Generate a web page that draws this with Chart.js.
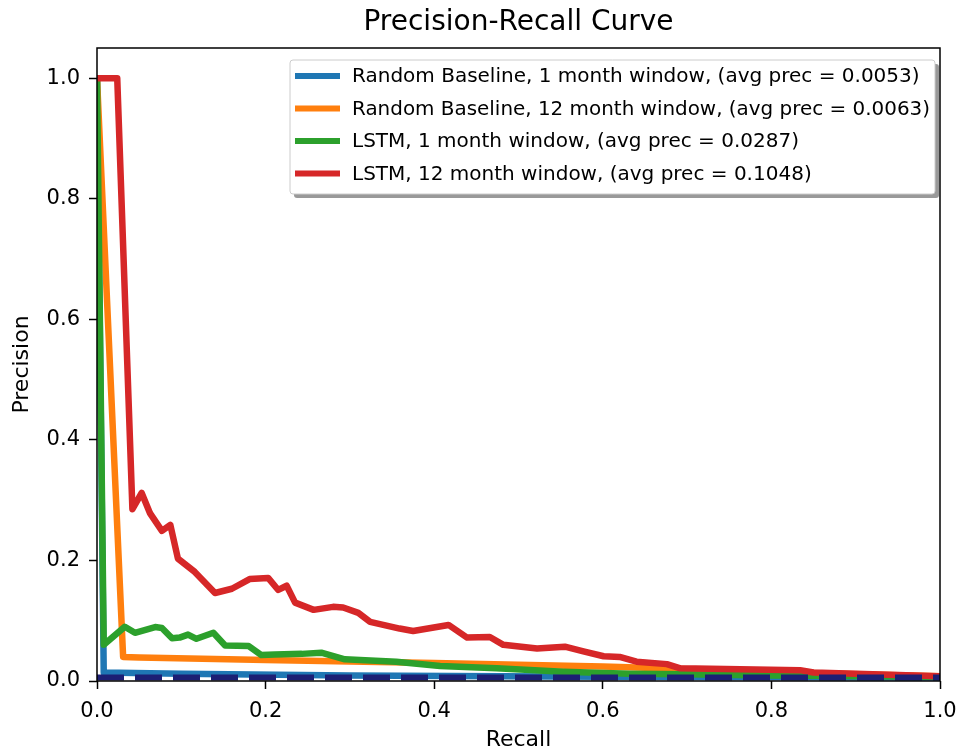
<!DOCTYPE html>
<html>
<head>
<meta charset="utf-8">
<script src="https://cdn.jsdelivr.net/npm/chart.js@4.4.1/dist/chart.umd.min.js"></script>
<style>
  html, body { margin: 0; padding: 0; background: #fff; }
  #wrap { width: 970px; height: 753px; }
</style>
</head>
<body>
<div id="wrap"><canvas id="prChart" width="970" height="753"></canvas></div>
<script>
// Axis ticks
const xTicks = [0, 0.2, 0.4, 0.6, 0.8, 1.0];
const yTicks = [0, 0.2, 0.4, 0.6, 0.8, 1.0];

// Series labels (legend)
const seriesLabels = [
  'Random Baseline, 1 month window, (avg prec = 0.0053)',
  'Random Baseline, 12 month window, (avg prec = 0.0063)',
  'LSTM, 1 month window, (avg prec = 0.0287)',
  'LSTM, 12 month window, (avg prec = 0.1048)'
];
const seriesColors = ['#1f77b4', '#ff7f0e', '#2ca02c', '#d62728'];

// Random baseline, 1 month
const rb1Recall = [0, 0.008, 0.1, 0.3, 0.6, 1.0];
const rb1Prec   = [1.0, 0.014, 0.012, 0.009, 0.007, 0.006];

// Random baseline, 12 month
const rb12Recall = [0, 0.031, 0.05, 0.2, 0.4, 0.6, 0.65, 0.8, 1.0];
const rb12Prec   = [1.0, 0.040, 0.039, 0.035, 0.030, 0.024, 0.022, 0.015, 0.008];

// LSTM, 1 month
const lstm1Recall = [0, 0.008, 0.033, 0.045, 0.069, 0.077, 0.089, 0.098, 0.108, 0.118, 0.138, 0.152, 0.18, 0.195,
  0.211, 0.243, 0.266, 0.294, 0.312, 0.355, 0.407, 0.474, 0.553, 0.632, 0.7, 0.8, 1.0];
const lstm1Prec = [1.0, 0.06, 0.09, 0.08, 0.0895, 0.088, 0.071, 0.072, 0.077, 0.07, 0.08, 0.059, 0.058, 0.043,
  0.044, 0.045, 0.047, 0.036, 0.035, 0.032, 0.025, 0.021, 0.0155, 0.012, 0.011, 0.009, 0.007];

// LSTM, 12 month
const lstm12Recall = [0, 0.024, 0.042, 0.053, 0.063, 0.077, 0.087, 0.096, 0.116, 0.14, 0.16, 0.181, 0.203, 0.215,
  0.225, 0.235, 0.257, 0.28, 0.292, 0.31, 0.324, 0.359, 0.375, 0.417, 0.439, 0.466, 0.482, 0.522, 0.555, 0.577,
  0.601, 0.62, 0.64, 0.676, 0.692, 0.834, 0.85, 1.0];
const lstm12Prec = [1.0, 1.0, 0.285, 0.312, 0.278, 0.249, 0.259, 0.203, 0.181, 0.146, 0.153, 0.169, 0.171, 0.151,
  0.158, 0.130, 0.118, 0.123, 0.122, 0.113, 0.098, 0.087, 0.083, 0.093, 0.072, 0.073, 0.060, 0.054, 0.057, 0.049,
  0.041, 0.040, 0.032, 0.028, 0.021, 0.018, 0.014, 0.008];

// Dashed baseline along the bottom
const baseRecall = [0, 1.0];
const basePrec   = [0.006, 0.006];

const toPoints = (xs, ys) => xs.map((x, i) => ({ x, y: ys[i] }));

function lineSet(label, xs, ys, color, order) {
  return {
    label,
    data: toPoints(xs, ys),
    borderColor: color,
    backgroundColor: color,
    borderWidth: 6.5,
    pointRadius: 0,
    tension: 0,
    borderJoinStyle: 'round',
    order
  };
}

// frame around plot area (drawn above the lines, like matplotlib spines)
const framePlugin = {
  id: 'frame',
  afterDatasetsDraw(chart) {
    const { ctx, chartArea: a } = chart;
    ctx.save();
    ctx.strokeStyle = '#000';
    ctx.lineWidth = 1.5;
    ctx.strokeRect(a.left, a.top, a.right - a.left, a.bottom - a.top);
    ctx.restore();
  }
};

// matplotlib-style legend box in the upper right
const legendBoxPlugin = {
  id: 'legendBox',
  afterDraw(chart) {
    const { ctx } = chart;
    const x0 = 290, y0 = 60, w = 645, h = 134;
    ctx.save();
    ctx.fillStyle = 'rgba(0,0,0,0.4)';
    ctx.beginPath();
    ctx.roundRect(x0 + 4, y0 + 4, w, h, 3);
    ctx.fill();
    ctx.fillStyle = '#fff';
    ctx.strokeStyle = '#cccccc';
    ctx.lineWidth = 1;
    ctx.beginPath();
    ctx.roundRect(x0, y0, w, h, 3);
    ctx.fill();
    ctx.stroke();

    ctx.font = '20px "DejaVu Sans"';
    ctx.textBaseline = 'middle';
    ctx.fillStyle = '#000';
    seriesLabels.forEach((label, i) => {
      const y = y0 + 16 + i * 32.5;
      ctx.strokeStyle = seriesColors[i];
      ctx.lineWidth = 6;
      ctx.beginPath();
      ctx.moveTo(x0 + 5, y);
      ctx.lineTo(x0 + 50, y);
      ctx.stroke();
      ctx.fillText(label, x0 + 62, y + 1, 578);
    });
    ctx.restore();
  }
};

new Chart(document.getElementById('prChart'), {
  type: 'line',
  data: {
    datasets: [
      {
        label: 'baseline',
        data: toPoints(baseRecall, basePrec),
        borderColor: '#1c1f74',
        borderWidth: 6,
        borderDash: [27, 11],
        pointRadius: 0,
        tension: 0,
        order: 0
      },
      lineSet(seriesLabels[3], lstm12Recall, lstm12Prec, seriesColors[3], 1),
      lineSet(seriesLabels[2], lstm1Recall, lstm1Prec, seriesColors[2], 2),
      lineSet(seriesLabels[1], rb12Recall, rb12Prec, seriesColors[1], 3),
      lineSet(seriesLabels[0], rb1Recall, rb1Prec, seriesColors[0], 4)
    ]
  },
  options: {
    responsive: false,
    animation: false,
    layout: { padding: { left: 0, right: 30, top: 0, bottom: 0 } },
    plugins: {
      legend: { display: false },
      tooltip: { enabled: false },
      title: {
        display: true,
        text: 'Precision-Recall Curve',
        fullSize: false,
        color: '#000',
        font: { family: 'DejaVu Sans', size: 28, weight: 'normal' },
        padding: { top: 6, bottom: 8.4 }
      }
    },
    scales: {
      x: {
        type: 'linear',
        min: 0,
        max: 1,
        afterBuildTicks: s => { s.ticks = xTicks.map(v => ({ value: v })); },
        afterFit: s => { s.height = 72; },
        border: { display: false },
        grid: { drawOnChartArea: false, tickLength: 8, tickColor: '#000', tickWidth: 1.5 },
        ticks: {
          color: '#000',
          font: { family: 'DejaVu Sans', size: 21 },
          padding: 10,
          maxRotation: 0,
          callback: v => v.toFixed(1)
        },
        title: {
          display: true,
          text: 'Recall',
          color: '#000',
          font: { family: 'DejaVu Sans', size: 22 },
          padding: { top: 0, bottom: 0 }
        }
      },
      y: {
        type: 'linear',
        min: 0,
        max: 1.05,
        afterBuildTicks: s => { s.ticks = yTicks.map(v => ({ value: v })); },
        afterFit: s => { s.width = 97; },
        border: { display: false },
        grid: { drawOnChartArea: false, tickLength: 8, tickColor: '#000', tickWidth: 1.5 },
        ticks: {
          color: '#000',
          font: { family: 'DejaVu Sans', size: 21 },
          padding: 9,
          callback: v => v.toFixed(1)
        },
        title: {
          display: true,
          text: 'Precision',
          color: '#000',
          font: { family: 'DejaVu Sans', size: 22 },
          padding: { top: 9, bottom: 0 }
        }
      }
    }
  },
  plugins: [framePlugin, legendBoxPlugin]
});
</script>
</body>
</html>
